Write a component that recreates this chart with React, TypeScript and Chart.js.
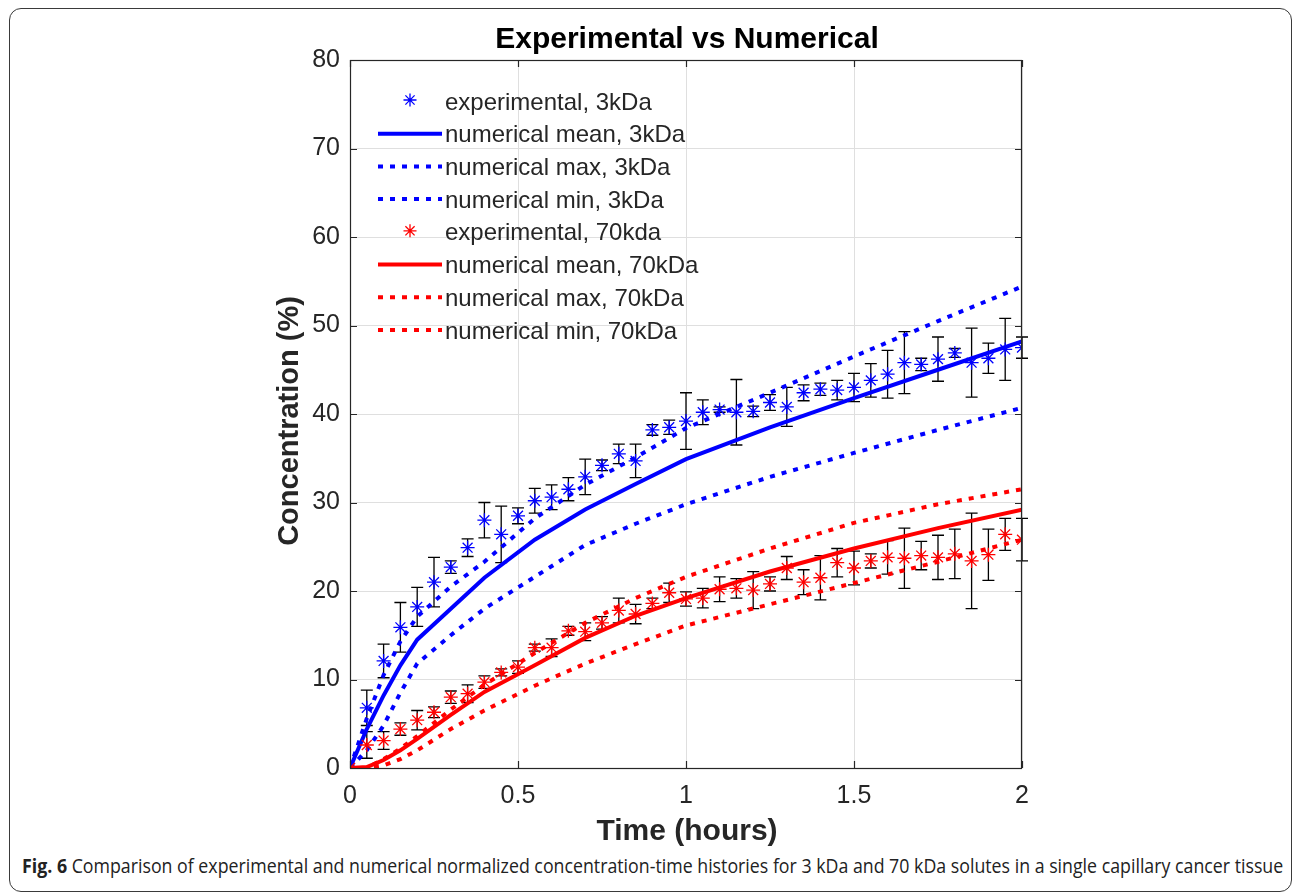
import React, { useEffect, useRef } from "react";
import { Chart, registerables } from "chart.js";

Chart.register(...registerables);

// ---------------- data ----------------
const expTimes = [
  0, 0.05, 0.1, 0.15, 0.2, 0.25, 0.3, 0.35, 0.4, 0.45, 0.5, 0.55, 0.6, 0.65, 0.7,
  0.75, 0.8, 0.85, 0.9, 0.95, 1.0, 1.05, 1.1, 1.15, 1.2, 1.25, 1.3, 1.35, 1.4,
  1.45, 1.5, 1.55, 1.6, 1.65, 1.7, 1.75, 1.8, 1.85, 1.9, 1.95, 2.0,
];
const exp3kDa = [
  0, 6.8, 12.1, 15.9, 18.2, 21.0, 22.7, 24.9, 28.0, 26.4, 28.5, 30.2, 30.6, 31.5,
  32.9, 34.2, 35.5, 34.7, 38.2, 38.5, 39.2, 40.2, 40.5, 40.2, 40.3, 41.3, 40.8,
  42.4, 42.8, 42.7, 43.0, 43.8, 44.5, 45.8, 45.6, 46.2, 46.9, 45.8, 46.3, 47.3, 47.5,
];
const err3kDa = [
  0, 2.0, 1.9, 2.8, 2.2, 2.8, 0.7, 1.0, 2.0, 3.2, 0.9, 1.4, 1.4, 1.3, 2.0, 0.6,
  1.1, 1.9, 0.6, 0.8, 3.2, 1.4, 0.3, 3.7, 0.6, 0.9, 2.2, 0.9, 0.7, 1.1, 1.6, 1.9,
  2.7, 3.5, 0.7, 2.5, 0.5, 3.9, 1.7, 3.5, 1.2,
];
const exp70kDa = [
  0, 2.6, 3.1, 4.4, 5.4, 6.3, 8.0, 8.4, 9.7, 10.8, 11.4, 13.6, 13.6, 15.5, 15.4,
  16.4, 17.8, 17.4, 18.6, 19.8, 19.1, 19.2, 20.2, 20.3, 20.1, 20.8, 22.6, 21.0,
  21.5, 23.2, 22.6, 23.4, 23.8, 23.7, 24.0, 23.8, 24.2, 23.4, 24.1, 26.4, 25.8,
];
const err70kDa = [
  0, 1.5, 1.0, 0.7, 1.1, 0.6, 0.7, 1.0, 0.7, 0.4, 0.7, 0.4, 1.0, 0.5, 1.0, 0.7,
  1.4, 1.1, 0.6, 1.1, 0.8, 1.1, 1.4, 1.1, 2.1, 0.8, 1.3, 1.4, 2.5, 1.6, 1.9, 0.8,
  1.9, 3.4, 1.6, 2.5, 2.8, 5.4, 2.9, 1.8, 2.4,
];

const numTimes = [0, 0.05, 0.1, 0.15, 0.2, 0.3, 0.4, 0.55, 0.7, 0.85, 1.0, 1.25, 1.5, 1.75, 2.0];
const mean3kDa = [0, 4.4, 8.2, 11.6, 14.5, 18.0, 21.5, 25.8, 29.2, 32.1, 34.9, 38.5, 41.8, 45.0, 48.2];
const max3kDa = [0, 5.6, 10.5, 14.3, 17.1, 20.5, 23.3, 28.2, 32.0, 35.1, 38.4, 42.4, 46.5, 50.5, 54.4];
const min3kDa = [0, 2.0, 4.8, 8.5, 11.8, 15.0, 18.0, 21.6, 25.2, 27.6, 29.8, 32.9, 35.6, 38.2, 40.7];
const mean70kDa = [0, 0.1, 0.9, 2.0, 3.3, 6.0, 8.6, 11.6, 14.7, 17.2, 19.2, 22.2, 24.8, 27.1, 29.2];
const max70kDa = [0, 0, 1.0, 2.2, 3.6, 6.6, 9.4, 13.0, 16.4, 19.2, 21.6, 24.8, 27.7, 29.8, 31.5];
const min70kDa = [0, 0, 0.3, 1.0, 2.0, 4.4, 6.5, 9.3, 11.8, 14.0, 16.1, 18.5, 20.9, 23.3, 25.8];

const xTickLabels = ["0", "0.5", "1", "1.5", "2"];
const legendLabels = [
  "experimental, 3kDa",
  "numerical mean, 3kDa",
  "numerical max, 3kDa",
  "numerical min, 3kDa",
  "experimental, 70kda",
  "numerical mean, 70kDa",
  "numerical max, 70kDa",
  "numerical min, 70kDa",
];
const legendKinds = ["marker", "solid", "dotted", "dotted", "marker", "solid", "dotted", "dotted"];
const legendColors = ["#0000ff", "#0000ff", "#0000ff", "#0000ff", "#ff0000", "#ff0000", "#ff0000", "#ff0000"];

const titleText = "Experimental vs Numerical";
const xTitle = "Time (hours)";
const yTitle = "Concentration (%)";
const captionBold = "Fig. 6";
const captionRest =
  " Comparison of experimental and numerical normalized concentration-time histories for 3 kDa and 70 kDa solutes in a single capillary cancer tissue";

// ---------------- styling ----------------
const BLUE = "#0000ff";
const RED = "#ff0000";
const TEXT = "#262626";
const FONT = "'Liberation Sans', Arial, Helvetica, sans-serif";
const DOT = [5, 7];
const CANVAS_W = 1292;
const CANVAS_H = 850;
const AREA = { left: 350, right: 1022, top: 60, bottom: 768 };

const pts = (xs: number[], ys: number[]) => xs.map((x, i) => ({ x, y: ys[i] }));

function drawStar(ctx: CanvasRenderingContext2D, x: number, y: number, r: number) {
  const d = r * Math.SQRT1_2;
  ctx.beginPath();
  ctx.moveTo(x - r, y);
  ctx.lineTo(x + r, y);
  ctx.moveTo(x, y - r);
  ctx.lineTo(x, y + r);
  ctx.moveTo(x - d, y - d);
  ctx.lineTo(x + d, y + d);
  ctx.moveTo(x - d, y + d);
  ctx.lineTo(x + d, y - d);
  ctx.stroke();
}

const figPlugin = {
  id: "figPlugin",
  beforeDatasetsDraw(chart: any) {
    const { ctx, scales } = chart;
    const xs = scales.x;
    const ys = scales.y;
    ctx.save();
    ctx.strokeStyle = "#000000";
    ctx.lineWidth = 1.3;
    const groups: [number[], number[]][] = [
      [exp3kDa, err3kDa],
      [exp70kDa, err70kDa],
    ];
    groups.forEach(([vals, errs]) => {
      vals.forEach((v, i) => {
        const e = errs[i];
        if (!e) return;
        const px = xs.getPixelForValue(expTimes[i]);
        const t = ys.getPixelForValue(v + e);
        const b = ys.getPixelForValue(v - e);
        ctx.beginPath();
        ctx.moveTo(px, t);
        ctx.lineTo(px, b);
        ctx.moveTo(px - 6, t);
        ctx.lineTo(px + 6, t);
        ctx.moveTo(px - 6, b);
        ctx.lineTo(px + 6, b);
        ctx.stroke();
      });
    });
    ctx.restore();
  },
  afterDraw(chart: any) {
    const { ctx, chartArea, scales } = chart;
    const xs = scales.x;
    const ys = scales.y;
    const { left, right, top, bottom } = chartArea;
    ctx.save();
    // box
    ctx.strokeStyle = TEXT;
    ctx.lineWidth = 1.2;
    ctx.strokeRect(left + 0.5, top + 0.5, right - left - 1, bottom - top);
    // inward ticks
    ctx.beginPath();
    ys.ticks.forEach((t: any) => {
      const py = Math.round(ys.getPixelForValue(t.value)) + 0.5;
      ctx.moveTo(left, py);
      ctx.lineTo(left + 7, py);
      ctx.moveTo(right, py);
      ctx.lineTo(right - 7, py);
    });
    xs.ticks.forEach((t: any) => {
      const px = Math.round(xs.getPixelForValue(t.value)) + 0.5;
      ctx.moveTo(px, bottom);
      ctx.lineTo(px, bottom - 7);
      ctx.moveTo(px, top);
      ctx.lineTo(px, top + 7);
    });
    ctx.stroke();

    // titles
    ctx.fillStyle = "#000000";
    ctx.font = `bold 30px ${FONT}`;
    ctx.textAlign = "center";
    ctx.textBaseline = "alphabetic";
    ctx.fillText(titleText, (left + right) / 2 + 1, 48);
    ctx.fillStyle = TEXT;
    ctx.fillText(xTitle, (left + right) / 2 + 1, 840);
    ctx.save();
    ctx.translate(298, 421);
    ctx.rotate(-Math.PI / 2);
    ctx.font = `bold 29px ${FONT}`;
    ctx.fillText(yTitle, 0, 0);
    ctx.restore();

    // legend
    ctx.font = `24px ${FONT}`;
    ctx.textAlign = "left";
    ctx.textBaseline = "middle";
    legendLabels.forEach((label, i) => {
      const cy = 102 + i * 32.7;
      const col = legendColors[i];
      const kind = legendKinds[i];
      ctx.strokeStyle = col;
      if (kind === "marker") {
        ctx.lineWidth = 1.3;
        drawStar(ctx, 410, cy - 2, 6.5);
      } else {
        ctx.lineWidth = 4;
        ctx.lineCap = "butt";
        ctx.setLineDash(kind === "dotted" ? DOT : []);
        ctx.beginPath();
        ctx.moveTo(378, cy - 1);
        ctx.lineTo(442, cy - 1);
        ctx.stroke();
        ctx.setLineDash([]);
      }
      ctx.fillStyle = TEXT;
      ctx.fillText(label, 445, cy + 1);
    });
    ctx.restore();
  },
};

export default function App() {
  const canvasRef = useRef<HTMLCanvasElement>(null);
  const capRef = useRef<HTMLDivElement>(null);

  useEffect(() => {
    const cap = capRef.current;
    if (cap) {
      cap.style.transform = "none";
      const w = cap.scrollWidth;
      if (w > 0) cap.style.transform = `scaleX(${1261 / w})`;
    }
    const canvas = canvasRef.current;
    if (!canvas) return;
    Chart.defaults.font.family = FONT;

    const lineDs = (label: string, data: number[], color: string, dotted: boolean, order: number) => ({
      type: "line" as const,
      label,
      data: pts(numTimes, data),
      borderColor: color,
      backgroundColor: color,
      borderWidth: 4,
      borderDash: dotted ? DOT : [],
      borderCapStyle: "butt" as const,
      pointRadius: 0,
      tension: 0,
      fill: false,
      order,
    });
    const expDs = (label: string, data: number[], color: string, order: number) => ({
      type: "scatter" as const,
      label,
      data: pts(expTimes, data),
      borderColor: color,
      backgroundColor: color,
      pointStyle: "star" as const,
      pointRadius: 7,
      pointBorderWidth: 1.3,
      showLine: false,
      order,
    });

    const chart = new Chart(canvas, {
      type: "scatter",
      data: {
        datasets: [
          expDs(legendLabels[0], exp3kDa, BLUE, 8),
          lineDs(legendLabels[1], mean3kDa, BLUE, false, 7),
          lineDs(legendLabels[2], max3kDa, BLUE, true, 6),
          lineDs(legendLabels[3], min3kDa, BLUE, true, 5),
          expDs(legendLabels[4], exp70kDa, RED, 4),
          lineDs(legendLabels[5], mean70kDa, RED, false, 3),
          lineDs(legendLabels[6], max70kDa, RED, true, 2),
          lineDs(legendLabels[7], min70kDa, RED, true, 1),
        ] as any,
      },
      options: {
        responsive: false,
        animation: false,
        devicePixelRatio: 1,
        layout: {
          padding: {
            top: AREA.top,
            right: CANVAS_W - AREA.right,
            left: 0,
            bottom: 0,
          },
        },
        plugins: {
          legend: { display: false },
          title: { display: false },
          tooltip: { enabled: false },
        },
        scales: {
          x: {
            type: "linear",
            min: 0,
            max: 2,
            ticks: {
              stepSize: 0.5,
              color: TEXT,
              font: { size: 25, family: FONT },
              padding: 13,
              maxRotation: 0,
              callback: (_v: any, i: number) => xTickLabels[i],
            },
            grid: { color: "#dfdfdf", lineWidth: 1, drawTicks: false },
            border: { display: false },
            afterFit: (s: any) => {
              s.height = CANVAS_H - AREA.bottom;
            },
          },
          y: {
            type: "linear",
            min: 0,
            max: 80,
            ticks: {
              stepSize: 10,
              color: TEXT,
              font: { size: 25, family: FONT },
              padding: 10,
            },
            grid: { color: "#dfdfdf", lineWidth: 1, drawTicks: false },
            border: { display: false },
            afterFit: (s: any) => {
              s.width = AREA.left;
            },
          },
        },
      },
      plugins: [figPlugin],
    });
    return () => chart.destroy();
  }, []);

  return (
    <div
      style={{
        position: "fixed",
        left: 0,
        top: 0,
        width: 1292,
        height: 892,
        background: "#ffffff",
        overflow: "hidden",
      }}
    >
      <div
        style={{
          position: "absolute",
          left: 9,
          top: 8,
          width: 1283,
          height: 884,
          border: "1.5px solid #3a3a3a",
          borderRadius: 12,
          boxSizing: "border-box",
        }}
      />
      <canvas
        ref={canvasRef}
        width={CANVAS_W}
        height={CANVAS_H}
        style={{ position: "absolute", left: 0, top: 0, width: CANVAS_W, height: CANVAS_H }}
      />
      <div
        ref={capRef}
        style={{
          position: "absolute",
          left: 22,
          top: 853,
          whiteSpace: "nowrap",
          fontFamily: "'Open Sans', 'Noto Sans', sans-serif",
          fontSize: 20,
          lineHeight: "26px",
          color: "#222",
          transformOrigin: "0 0",
          letterSpacing: 0,
        }}
      >
        <b>{captionBold}</b>
        {captionRest}
      </div>
    </div>
  );
}
